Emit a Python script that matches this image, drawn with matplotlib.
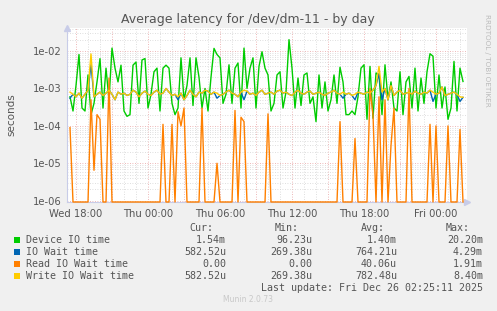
import numpy as np
import matplotlib
matplotlib.use("Agg")
import matplotlib.pyplot as plt
from matplotlib.ticker import FixedLocator

# ---------------- data ----------------
# samples every 15 minutes, starting Wed 17:30 (hours relative to Wed 18:00)
start_hour = -0.5
step_hour = 0.25

device_io_ms = [
    0.6, 0.25, 1.2, 8.1, 0.3, 0.25, 2.3, 0.2, 0.4, 1.5,
    6.3, 0.3, 3.5, 0.5, 12, 3.5, 1.5, 4.2, 0.25, 0.18,
    0.2, 4.2, 5.1, 0.4, 5.8, 6.3, 0.3, 0.7, 2.8, 3.5,
    0.25, 3.5, 4.2, 3.5, 0.4, 0.2, 0.3, 6.6, 0.5, 1.2,
    6.6, 0.35, 6.6, 2.0, 0.3, 1.0, 0.25, 2.0, 11.8, 8.1,
    6.6, 0.4, 0.7, 4.3, 0.4, 3.5, 4.8, 0.3, 12, 1.0,
    3.5, 6.6, 0.3, 3.9, 9.6, 3.5, 2.3, 0.25, 0.4, 2.3,
    2.8, 0.3, 0.8, 20.2, 3.5, 0.3, 1.9, 0.35, 2.3, 2.6,
    0.4, 0.6, 0.13, 2.3, 0.3, 1.5, 0.25, 0.5, 2.3, 0.4,
    3.7, 1.5, 0.2, 0.2, 0.25, 0.2, 0.6, 3.5, 4.3, 0.15,
    3.9, 0.16, 2.6, 2.3, 0.2, 4.3, 0.5, 1.5, 0.3, 0.25,
    2.8, 0.2, 1.5, 2.1, 0.3, 3.5, 0.25, 1.9, 0.4, 2.8,
    8.5, 7.3, 0.3, 2.3, 0.3, 1.1, 0.15, 0.3, 5.3, 0.25,
    3.5, 1.54,
]

io_wait_ms = [
    0.55, 0.7, 0.6, 0.75, 0.55, 0.7, 0.9, 4.3, 0.6, 0.7,
    0.8, 0.65, 0.75, 0.9, 0.7, 0.5, 0.8, 0.7, 0.75, 0.65,
    0.7, 0.9, 0.8, 0.6, 0.75, 0.85, 0.7, 0.65, 0.8, 0.9,
    0.7, 0.75, 1.0, 0.8, 0.65, 0.7, 0.5, 0.75, 0.5, 0.65,
    0.9, 0.7, 0.6, 0.8, 0.75, 0.9, 0.85, 0.7, 0.8, 0.55,
    0.65, 0.7, 0.8, 0.9, 0.75, 0.7, 0.6, 0.8, 0.5, 0.85,
    0.7, 0.75, 0.65, 0.8, 0.9, 0.7, 0.75, 0.8, 0.7, 0.85,
    0.9, 0.75, 0.8, 0.7, 0.65, 0.8, 0.9, 0.75, 0.7, 0.8,
    0.85, 0.7, 0.75, 0.8, 0.7, 0.65, 0.75, 0.8, 0.9, 0.75,
    0.7, 0.55, 0.7, 0.75, 0.65, 0.5, 0.8, 0.75, 0.7, 0.8,
    0.75, 0.9, 1.2, 2.5, 0.5, 1.0, 0.5, 1.2, 0.65, 0.8,
    0.9, 0.7, 0.75, 0.8, 0.7, 0.85, 0.75, 0.7, 0.8, 0.75,
    0.9, 0.45, 0.7, 0.75, 1.1, 0.65, 0.7, 0.75, 0.8, 0.7,
    0.45, 0.58,
]

read_wait_ms = [
    0.09, 0, 0, 0, 0, 0, 0, 0.5, 0.0065, 0.2,
    0.15, 0, 0, 1.9, 0, 0, 0, 0, 0, 0,
    0, 0, 0, 0, 0, 0, 0, 0, 0, 0,
    0, 0.11, 0, 0, 0.11, 0, 0.24, 0.1, 0.3, 0,
    0, 0, 0, 0, 0.3, 0, 0, 0, 0, 0.01,
    0, 0, 0, 0, 0, 0.26, 0, 0.17, 0.13, 0,
    0, 0, 0, 0, 0, 0, 0.21, 0, 0, 0,
    0, 0, 0, 0, 0, 0, 0, 0, 0, 0,
    0, 0, 0, 0, 0, 0, 0, 0, 0, 0,
    0.13, 0, 0, 0, 0, 0.046, 0, 0, 0, 0,
    1.0, 0.2, 0, 0.6, 0, 0.5, 0, 0.03, 0.3, 0,
    0, 0, 0, 1.0, 0, 0, 0, 0, 0, 0,
    0.11, 0, 0.1, 0, 0, 0, 0.1, 0, 0, 0,
    0.08, 0,
]

write_wait_ms = [
    0.8, 0.7, 0.6, 0.75, 0.55, 0.7, 0.9, 8.4, 0.6, 0.7,
    0.8, 0.65, 0.75, 0.9, 0.7, 0.5, 0.8, 0.7, 0.75, 0.65,
    0.7, 0.9, 0.8, 0.6, 0.75, 0.85, 0.7, 0.65, 0.8, 0.9,
    0.7, 0.75, 1.0, 0.8, 0.65, 0.7, 0.6, 0.75, 0.5, 0.65,
    0.9, 0.7, 0.6, 0.8, 0.75, 0.9, 0.85, 0.7, 0.8, 0.75,
    0.65, 0.7, 0.8, 0.9, 0.75, 0.7, 0.6, 0.8, 0.9, 0.85,
    0.7, 0.75, 0.65, 0.8, 0.9, 0.7, 0.75, 0.8, 0.7, 0.85,
    0.9, 0.75, 0.8, 0.7, 0.65, 0.8, 0.9, 0.75, 0.7, 0.8,
    0.85, 0.7, 0.75, 0.8, 0.7, 0.65, 0.75, 0.8, 0.9, 0.75,
    0.7, 0.8, 0.7, 0.75, 0.65, 0.7, 0.8, 0.75, 0.7, 0.8,
    0.75, 0.9, 1.2, 3.9, 0.8, 1.0, 0.5, 1.2, 0.65, 0.8,
    0.9, 0.7, 0.75, 0.8, 0.7, 0.85, 0.75, 0.7, 0.8, 0.75,
    0.9, 0.8, 0.7, 0.75, 1.1, 0.65, 0.7, 0.75, 0.8, 0.7,
    0.6, 0.58,
]

series_names = ["Device IO time", "IO Wait time", "Read IO Wait time", "Write IO Wait time"]
series_colors = ["#00CC00", "#0066B3", "#FF8000", "#FFCC00"]
cur_vals = ["1.54m", "582.52u", "0.00", "582.52u"]
min_vals = ["96.23u", "269.38u", "0.00", "269.38u"]
avg_vals = ["1.40m", "764.21u", "40.06u", "782.48u"]
max_vals = ["20.20m", "4.29m", "1.91m", "8.40m"]

x_tick_hours = [0, 6, 12, 18, 24, 30]
x_tick_labels = ["Wed 18:00", "Thu 00:00", "Thu 06:00", "Thu 12:00", "Thu 18:00", "Fri 00:00"]
y_ticks = [1e-6, 1e-5, 1e-4, 1e-3, 1e-2]
y_tick_labels = ["1e-06", "1e-05", "1e-04", "1e-03", "1e-02"]

title = "Average latency for /dev/dm-11 - by day"
last_update = "Last update: Fri Dec 26 02:25:11 2025"

# ---------------- figure ----------------
W, H = 497, 311
fig = plt.figure(figsize=(W / 100, H / 100), dpi=100, facecolor="#F0F0F0")
L, R, T, B = 67, 467, 28, 202
ax = fig.add_axes([L / W, 1 - B / H, (R - L) / W, (B - T) / H])
ax.set_facecolor("white")

n = len(device_io_ms)
hours = start_hour + step_hour * np.arange(n)

ymin, ymax = 10 ** -6.035, 10 ** -1.383
ax.set_yscale("log")
ax.set_ylim(ymin, ymax)
ax.set_xlim((L - 76) / 12.0, (R - 76) / 12.0)

# grid
minor_col = "#D4D4D4"
major_col = "#E8A0A0"
for h in np.arange(0, 34, 1):
    if h % 3 != 0:
        ax.axvline(h, color=minor_col, lw=0.6, ls=(0, (1, 2)), zorder=1)
for h in np.arange(0, 34, 3):
    ax.axvline(h, color=major_col, lw=0.6, ls=(0, (1, 2)), zorder=1)
for dec in range(-7, 0):
    for m in range(2, 10):
        v = m * 10.0 ** dec
        if ymin < v < ymax:
            ax.axhline(v, color=minor_col, lw=0.6, ls=(0, (1, 2)), zorder=1)
for v in y_ticks:
    ax.axhline(v, color=major_col, lw=0.6, ls=(0, (1, 2)), zorder=1)

dev = np.asarray(device_io_ms, dtype=float) / 1000.0
iow = np.asarray(io_wait_ms, dtype=float) / 1000.0
rd = np.asarray(read_wait_ms, dtype=float) / 1000.0
wr = np.asarray(write_wait_ms, dtype=float) / 1000.0
rd_plot = np.where(rd > 0, rd, ymin)

# axes look
for s in ["top", "right"]:
    ax.spines[s].set_visible(False)
for s in ["left", "bottom"]:
    ax.spines[s].set_color("#C8CCE8")
    ax.spines[s].set_linewidth(0.8)
    ax.spines[s].set_zorder(2)

ax.plot(hours, dev, color=series_colors[0], lw=1.0, zorder=3)
ax.plot(hours, iow, color=series_colors[1], lw=1.0, zorder=4)
ax.plot(hours, rd_plot, color=series_colors[2], lw=1.0, zorder=5, clip_on=False)
ax.plot(hours, wr, color=series_colors[3], lw=1.0, zorder=6)

ax.plot([0], [1.0], marker="^", color="#C8CCE8", ms=4, transform=ax.transAxes, clip_on=False)
ax.plot([1.0], [0], marker=">", color="#C8CCE8", ms=4, transform=ax.transAxes, clip_on=False)

ax.yaxis.set_major_locator(FixedLocator(y_ticks))
ax.yaxis.set_minor_locator(FixedLocator([]))
ax.set_yticklabels(y_tick_labels)
ax.set_xticks(x_tick_hours)
ax.set_xticklabels(x_tick_labels)
ax.tick_params(axis="both", length=0, labelsize=7.2, colors="#555555", pad=4)
ax.tick_params(axis="x", pad=5)

fig.text(248 / W, 1 - 19 / H, title, ha="center", va="center", fontsize=9.0, color="#555555")
fig.text(11 / W, 1 - 115 / H, "seconds", rotation=90, ha="center", va="center", fontsize=7.5, color="#555555")
fig.text(487 / W, 1 - 60 / H, "RRDTOOL / TOBI OETIKER", rotation=270, ha="center", va="center",
         fontsize=5.2, color="#BBBBBB")

# legend
mono = dict(family="DejaVu Sans Mono", fontsize=7.2, color="#555555", va="center")
def fy(y):
    return 1 - y / H
fig.text(213 / W, fy(228.3), "Cur:", ha="right", **mono)
fig.text(299 / W, fy(228.3), "Min:", ha="right", **mono)
fig.text(385 / W, fy(228.3), "Avg:", ha="right", **mono)
fig.text(470 / W, fy(228.3), "Max:", ha="right", **mono)
row_y = [239.7, 251.7, 263.7, 275.7]
for i in range(4):
    y = row_y[i]
    fig.patches.append(plt.Rectangle((14 / W, fy(y) - 3 / H), 6 / W, 6 / H, transform=fig.transFigure,
                                     facecolor=series_colors[i], edgecolor="none"))
    fig.text(26 / W, fy(y), series_names[i], ha="left", **mono)
    fig.text(226 / W, fy(y), cur_vals[i], ha="right", **mono)
    fig.text(312 / W, fy(y), min_vals[i], ha="right", **mono)
    fig.text(397 / W, fy(y), avg_vals[i], ha="right", **mono)
    fig.text(483 / W, fy(y), max_vals[i], ha="right", **mono)
fig.text(483 / W, fy(287.7), last_update, ha="right", **mono)
fig.text(248 / W, fy(300), "Munin 2.0.73", ha="center", va="center", fontsize=5.5, color="#C8C8C8")

fig.savefig("out.png", dpi=100, facecolor=fig.get_facecolor())
